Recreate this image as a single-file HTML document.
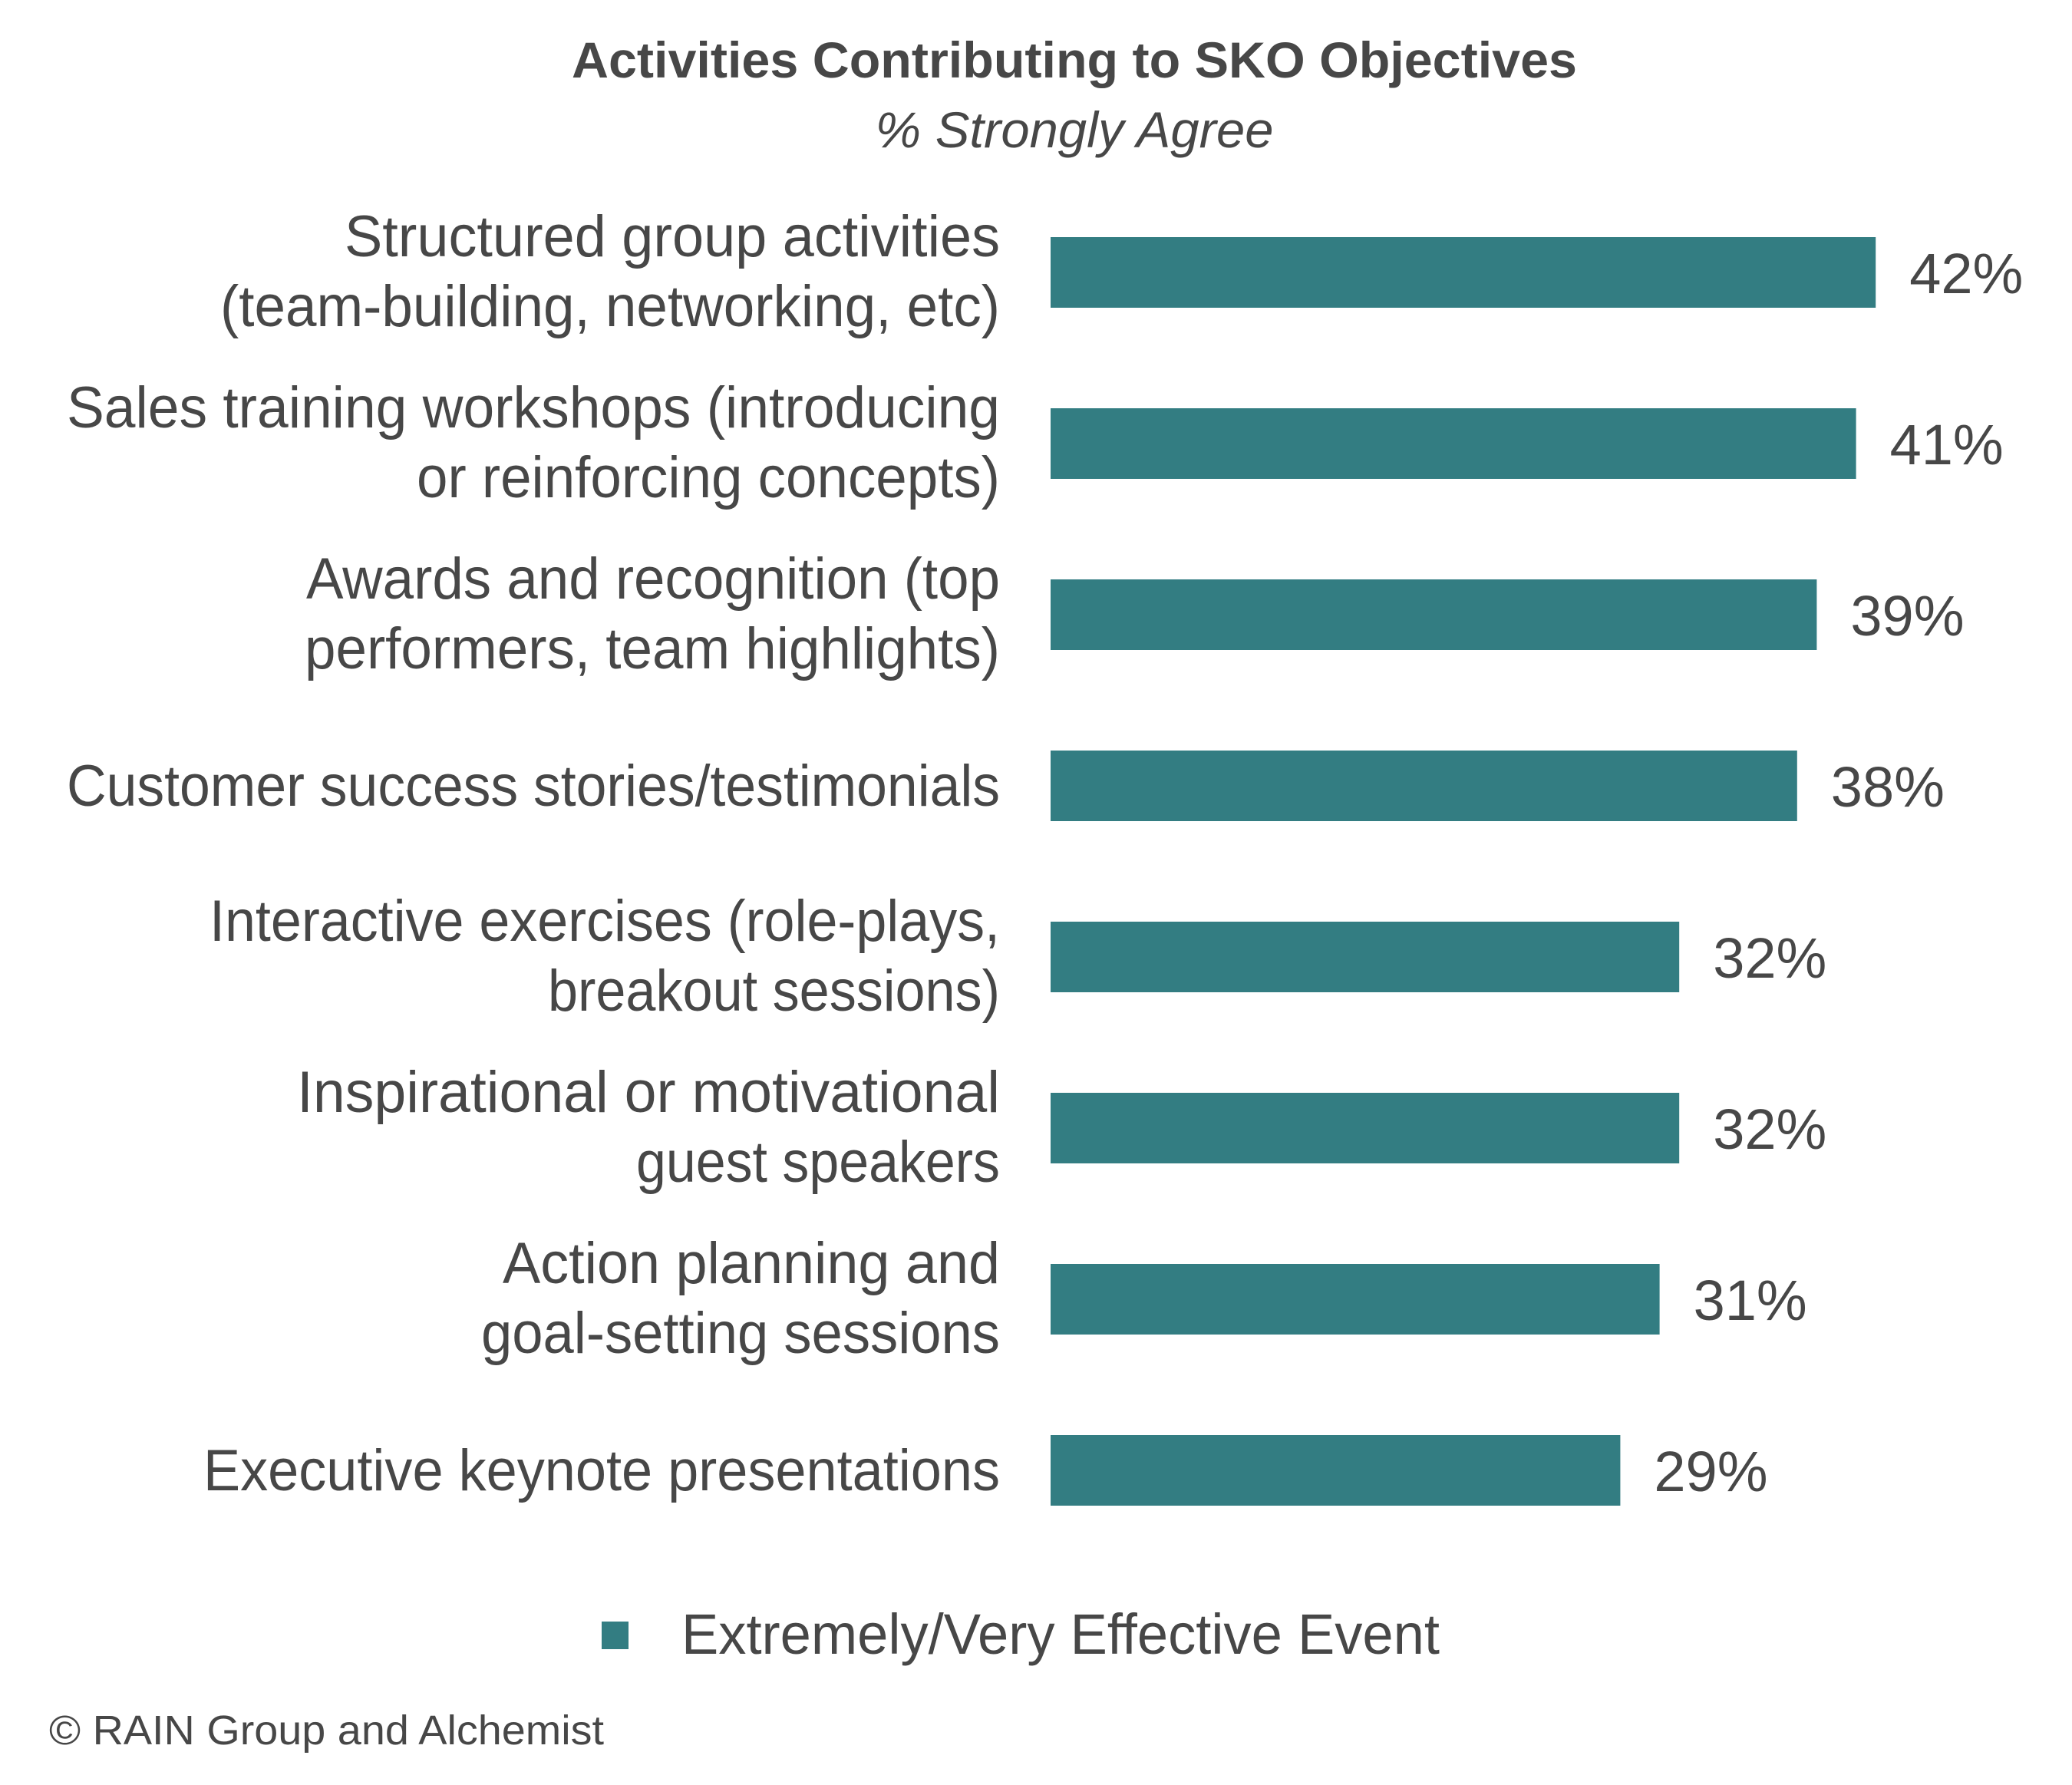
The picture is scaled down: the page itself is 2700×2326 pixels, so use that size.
<!DOCTYPE html>
<html><head><meta charset="utf-8"><style>
html,body{margin:0;padding:0;background:#fff}
svg{display:block}
text{font-family:"Liberation Sans",sans-serif;fill:#474747}
</style></head><body>
<svg id="chart" width="2700" height="2326" viewBox="0 0 2700 2326">
<text x="1400" y="101" text-anchor="middle" font-weight="bold" font-size="66" textLength="1310" lengthAdjust="spacingAndGlyphs">Activities Contributing to SKO Objectives</text>
<text x="1400" y="192" text-anchor="middle" font-style="italic" font-size="66" textLength="519" lengthAdjust="spacingAndGlyphs">% Strongly Agree</text>
<g id="bars"></g>
<rect x="784" y="2113" width="35" height="36" fill="#337d82"/>
<text x="888" y="2155" font-size="74" textLength="988" lengthAdjust="spacingAndGlyphs">Extremely/Very Effective Event</text>
<text x="64" y="2273" font-size="54" textLength="723" lengthAdjust="spacingAndGlyphs">© RAIN Group and Alchemist</text>
</svg>
<script>
const categories = [
  ["Structured group activities","(team-building, networking, etc)"],
  ["Sales training workshops (introducing","or reinforcing concepts)"],
  ["Awards and recognition (top","performers, team highlights)"],
  ["Customer success stories/testimonials"],
  ["Interactive exercises (role-plays,","breakout sessions)"],
  ["Inspirational or motivational","guest speakers"],
  ["Action planning and","goal-setting sessions"],
  ["Executive keynote presentations"]
];
const values = [42,41,39,38,32,32,31,29];
const valueLabels = ["42%","41%","39%","38%","32%","32%","31%","29%"];
const labelWidths = [[854,1016],[1216,760],[904,906],[1216],[1030,589],[916,474],[648,676],[1038]];

const NS="http://www.w3.org/2000/svg";
const g=document.getElementById('bars');
const x0=1369, pxPer=25.6, y0=355, step=223, bh=92, labelX=1303;
function xs(v){return x0+v*pxPer;}
function yc(i){return y0+i*step;}
categories.forEach((lines,i)=>{
  const c=yc(i);
  const r=document.createElementNS(NS,'rect');
  
  
  r.setAttribute('x',x0);r.setAttribute('y',c-bh/2);
  r.setAttribute('width',xs(values[i])-x0);r.setAttribute('height',bh);
  r.setAttribute('fill','#337d82');
  g.appendChild(r);
  const v=document.createElementNS(NS,'text');
  
  
  v.setAttribute('x',xs(values[i])+44);v.setAttribute('y',c+27);
  v.setAttribute('font-size','74');
  v.textContent=valueLabels[i];
  g.appendChild(v);
  const offs=lines.length===2?[-21,70]:[26];
  lines.forEach((ln,j)=>{
    const t=document.createElementNS(NS,'text');
    
    
    t.setAttribute('x',labelX);t.setAttribute('y',c+offs[j]);
    t.setAttribute('text-anchor','end');t.setAttribute('font-size','76');
    t.setAttribute('textLength',labelWidths[i][j]);
    t.setAttribute('lengthAdjust','spacingAndGlyphs');
    t.textContent=ln;
    g.appendChild(t);
  });
});
</script>
</body></html>
